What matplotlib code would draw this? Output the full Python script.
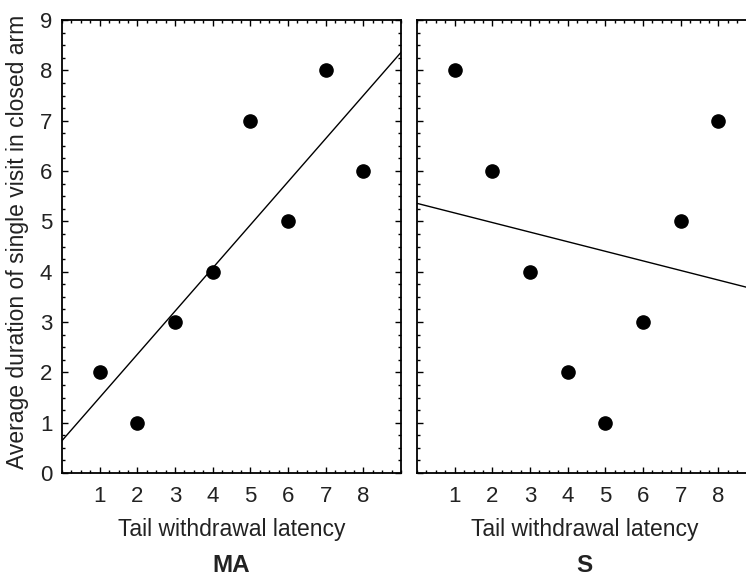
import numpy as np
import matplotlib
matplotlib.use("Agg")
import matplotlib.pyplot as plt
from matplotlib.ticker import MultipleLocator

plt.rcParams['font.family'] = ['Liberation Sans', 'DejaVu Sans']

latency = [1, 2, 3, 4, 5, 6, 7, 8]
ma_duration = [2, 1, 3, 4, 7, 5, 8, 6]
s_duration = [8, 6, 4, 2, 1, 3, 5, 7]
panel_titles = ["MA", "S"]
x_label = "Tail withdrawal latency"
y_label = "Average duration of single visit in closed arm"

W, H = 746, 576
fig = plt.figure(figsize=(W / 100, H / 100), dpi=100)

def fx(px):
    return px / W

def fy(py):
    return 1 - py / H

top, bottom = 20, 473
ah = bottom - top
axL = fig.add_axes([fx(62), fy(bottom), fx(401 - 62), ah / H])
axR = fig.add_axes([fx(417), fy(bottom), fx(756 - 417), ah / H])

for ax, yvals, title, cx in [(axL, ma_duration, panel_titles[0], 231.5),
                             (axR, s_duration, panel_titles[1], 584.5)]:
    x = np.array(latency, dtype=float)
    y = np.array(yvals, dtype=float)
    slope, icpt = np.polyfit(x, y, 1)
    xx = np.array([0, 9])
    ax.plot(xx, slope * xx + icpt, color='black', lw=1.0)
    ax.plot(x, y, 'o', color='black', ms=9.5, zorder=3)
    ax.set_xlim(0, 9)
    ax.set_ylim(0, 9)
    ax.set_xticks(latency)
    ax.set_yticks(range(0, 10))
    ax.xaxis.set_minor_locator(MultipleLocator(0.25))
    ax.yaxis.set_minor_locator(MultipleLocator(0.25))
    ax.tick_params(which='both', direction='in', top=True, right=True, width=1.0,
                   labelcolor='#222222')
    ax.tick_params(which='major', length=4, labelsize=16)
    ax.tick_params(axis='x', which='major', pad=9)
    ax.tick_params(axis='y', which='major', pad=7)
    ax.tick_params(which='minor', length=2)
    for sp in ax.spines.values():
        sp.set_linewidth(1.3)
    x0 = ax.get_position().x0 * W
    w = ax.get_position().width * W
    cxa = (cx - x0) / w
    ax.set_xlabel(x_label, fontsize=16.5, color='#222222')
    ax.xaxis.set_label_coords(cxa, (bottom - 518) / ah)
    ax.text(cxa, (bottom - 566) / ah, title,
            transform=ax.transAxes, ha='center', va='center',
            fontsize=17.5, fontweight='bold', color='#222222')

axR.tick_params(axis='y', which='both', labelleft=False)
axL.set_ylabel(y_label, fontsize=16.5, color='#222222')
axL.yaxis.set_label_coords((29 - 62) / 339, (bottom - 242) / ah)

fig.savefig("out.png", dpi=100)
